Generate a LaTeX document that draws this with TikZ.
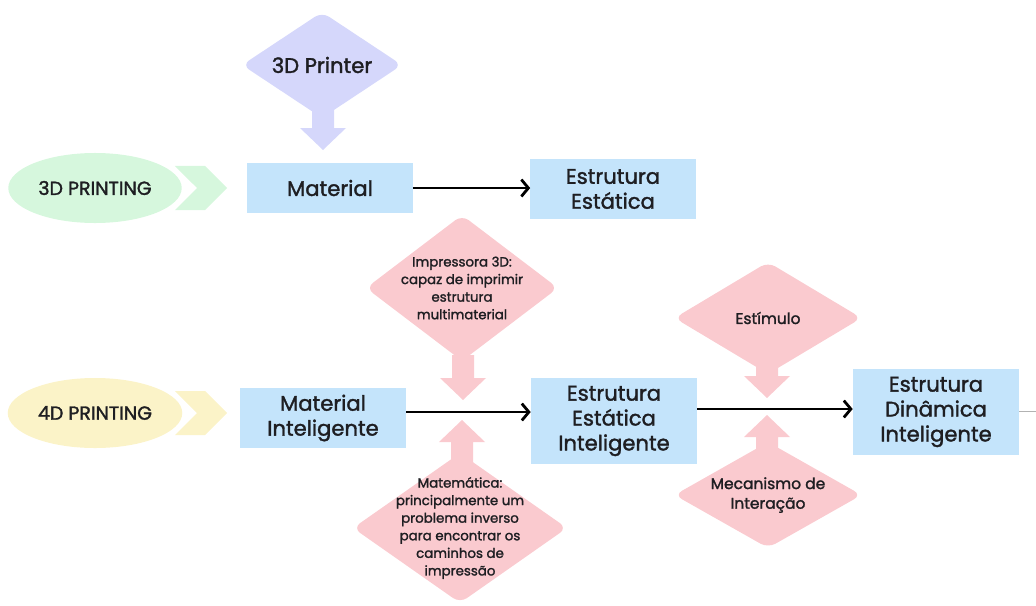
\documentclass[tikz,border=0pt]{standalone}
\usepackage{fontspec}
\setmainfont{Poppins}[FakeBold=1.6]
\usepackage{tikz}
\usetikzlibrary{shapes,arrows,arrows.meta,positioning}
\definecolor{boxblue}{RGB}{196,228,251}
\definecolor{dialilac}{RGB}{213,215,251}
\definecolor{diapink}{RGB}{250,202,207}
\definecolor{ellgreen}{RGB}{214,247,221}
\definecolor{ellyellow}{RGB}{251,243,200}
\definecolor{inkc}{RGB}{30,30,34}
\tikzstyle{line} = [draw, line width=2pt, -{Straight Barb[length=5pt,width=12pt]}]
\tikzstyle{block} = [rectangle, fill=boxblue, align=center, text=inkc, inner sep=1pt, font=\fontsize{15}{17.7}\selectfont]
\tikzstyle{decision} = [diamond, rounded corners=6pt, align=center, text=inkc, inner sep=-14pt, aspect=1.35, font=\fontsize{9.5}{12.5}\selectfont]
\tikzstyle{cloud} = [ellipse, minimum width=4.25cm, minimum height=1.75cm, text=inkc, font=\fontsize{13.5}{15}\selectfont]
\tikzstyle{chevron} = [signal, signal from=west, signal to=east, minimum width=1.3cm, minimum height=1.1cm, inner sep=0pt]
\tikzset{pointer/.pic={\path[pic actions] (0,0) -- (-23,-22) -- (-11,-22) -- (-11,-45) -- (11,-45) -- (11,-22) -- (23,-22) -- cycle;}}

\begin{document}
\begin{tikzpicture}[x=0.025cm, y=-0.025cm]
    \useasboundingbox (0,0) rectangle (1036,605);
    % 3D row
    \node [cloud, fill=ellgreen] (p3) at (95,188) {3D PRINTING};
    \node [chevron, fill=ellgreen] (c3) at (201,188) {};
    \node [block, minimum width=4.125cm, minimum height=1.25cm] (mat) at (330,188) {Material};
    \node [block, minimum width=4.125cm, minimum height=1.5cm] (est) at (613,189) {Estrutura\\Estática};
    \node [decision, fill=dialilac, minimum width=4cm, minimum height=2.65cm, font=\fontsize{15}{17}\selectfont] (printer) at (322,65) {3D Printer};
    \pic [fill=dialilac] at (323,150) {pointer};

    \path [line] (mat.east) -- (est.west |- mat.east);

    % 4D row
    \node [cloud, fill=ellyellow] (p4) at (95,413) {4D PRINTING};
    \node [chevron, fill=ellyellow] (c4) at (201,413) {};
    \node [block, minimum width=4.15cm, minimum height=1.475cm] (matint) at (323,418) {Material\\Inteligente};
    \node [block, minimum width=4.15cm, minimum height=2.125cm] (estint) at (614,421) {Estrutura\\Estática\\Inteligente};
    \node [block, minimum width=4.15cm, minimum height=2.125cm] (dynint) at (936,412) {Estrutura\\Dinâmica\\Inteligente};
    \coordinate (edge) at (1036,411);

    \node [decision, fill=diapink, minimum width=4.8cm, minimum height=3.65cm] (impr) at (462,288) {Impressora 3D:\\capaz de imprimir\\estrutura\\multimaterial};
    \pic [fill=diapink] at (463,400) {pointer};
    \node [decision, fill=diapink, minimum width=5.35cm, minimum height=3.75cm] (math) at (460,528) {Matemática:\\principalmente um\\problema inverso\\para encontrar os\\caminhos de\\impressão};
    \pic [fill=diapink, rotate=180] at (462,420) {pointer};
    \node [decision, fill=diapink, minimum width=4.68cm, minimum height=2.8cm, font=\fontsize{11}{14}\selectfont] (stim) at (768,318) {Estímulo};
    \pic [fill=diapink] at (767,398) {pointer};
    \node [decision, fill=diapink, minimum width=4.68cm, minimum height=2.65cm, font=\fontsize{11}{14}\selectfont] (mech) at (768,495) {Mecanismo de\\Interação};
    \pic [fill=diapink, rotate=180] at (767,415) {pointer};

    \path [line] (matint.east |- 0,412) -- (estint.west |- 0,412);
    \path [line] (estint.east |- 0,409) -- (dynint.west |- 0,409);
    \draw [gray!60, thin] (dynint.east |- edge) -- (edge);
\end{tikzpicture}
\end{document}
